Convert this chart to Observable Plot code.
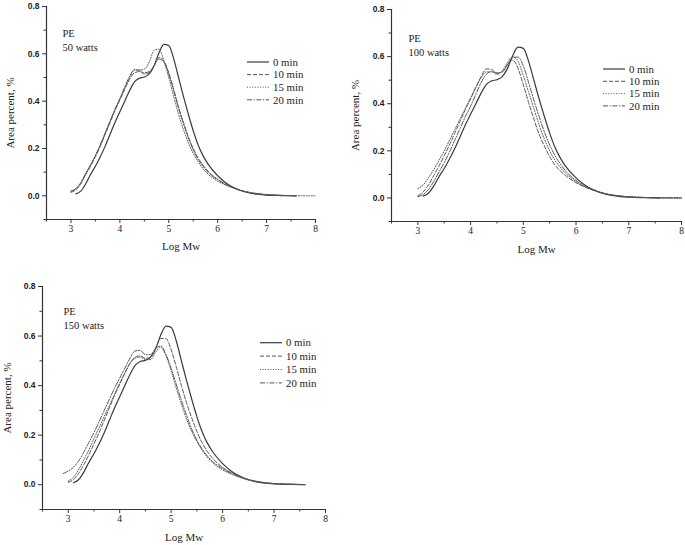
<!DOCTYPE html>
<html><head><meta charset="utf-8">
<script src="https://cdn.jsdelivr.net/npm/d3@7"></script>
<script src="https://cdn.jsdelivr.net/npm/@observablehq/plot@0.6"></script>
<style>
body{margin:0;background:#fff;}
#wrap{position:relative;width:685px;height:545px;overflow:hidden;background:#fff;}
#wrap svg{position:absolute;}
</style></head><body><div id="wrap"></div>
<script>
// Log Mw sample grid
const logMw = [2.9, 3.0, 3.1, 3.2, 3.3, 3.4, 3.5, 3.6, 3.7, 3.8, 3.9, 4.0, 4.1, 4.2, 4.3, 4.4, 4.5, 4.6, 4.7, 4.8, 4.9, 5.0, 5.1, 5.2, 5.3, 5.4, 5.5, 5.6, 5.7, 5.8, 6.0, 6.2, 6.4, 6.6, 6.8, 7.0, 7.3, 7.6, 8.0];
const seriesNames = ["0 min", "10 min", "15 min", "20 min"];
const panelTitles = ["50 watts", "100 watts", "150 watts"];
const xTicks = [3, 4, 5, 6, 7, 8];
const xMinor = [2.5, 3.5, 4.5, 5.5, 6.5, 7.5];
const yTicks = [0, 0.2, 0.4, 0.6, 0.8];
const yMinor = [-0.1, 0.1, 0.3, 0.5, 0.7];

// 0 min (untreated PE)
const min0 = [null, null, 0.008, 0.02, 0.05, 0.09, 0.125, 0.165, 0.21, 0.26, 0.31, 0.355, 0.40, 0.445, 0.482, 0.497, 0.502, 0.515, 0.55, 0.605, 0.64, 0.635, 0.58, 0.50, 0.42, 0.345, 0.275, 0.215, 0.17, 0.135, 0.085, 0.05, 0.028, 0.014, 0.007, 0.003, 0.001, 0, null];

// 50 watts
const w50_10 = [null, 0.015, 0.025, 0.05, 0.09, 0.125, 0.165, 0.21, 0.26, 0.31, 0.36, 0.405, 0.45, 0.492, 0.52, 0.525, 0.515, 0.52, 0.55, 0.585, 0.57, 0.52, 0.45, 0.375, 0.31, 0.25, 0.2, 0.16, 0.13, 0.105, 0.07, 0.045, 0.028, 0.016, 0.009, 0.005, 0.002, 0.0005, null];
const w50_15 = [null, 0.02, 0.03, 0.055, 0.09, 0.13, 0.17, 0.215, 0.265, 0.315, 0.365, 0.41, 0.455, 0.5, 0.532, 0.532, 0.535, 0.565, 0.615, 0.62, 0.57, 0.5, 0.42, 0.345, 0.28, 0.225, 0.18, 0.145, 0.115, 0.092, 0.062, 0.042, 0.027, 0.016, 0.009, 0.005, 0.002, 0.0005, 0];
const w50_20 = [null, 0.02, 0.03, 0.055, 0.095, 0.13, 0.17, 0.215, 0.265, 0.315, 0.365, 0.41, 0.46, 0.505, 0.533, 0.53, 0.52, 0.525, 0.55, 0.578, 0.565, 0.515, 0.445, 0.37, 0.305, 0.245, 0.195, 0.155, 0.125, 0.1, 0.068, 0.045, 0.028, 0.017, 0.01, 0.005, 0.002, 0, null];

// 100 watts
const w100_10 = [null, 0.01, 0.025, 0.055, 0.095, 0.135, 0.18, 0.225, 0.275, 0.325, 0.375, 0.42, 0.47, 0.515, 0.548, 0.545, 0.53, 0.535, 0.565, 0.585, 0.55, 0.48, 0.405, 0.335, 0.27, 0.22, 0.175, 0.14, 0.115, 0.095, 0.065, 0.043, 0.027, 0.016, 0.009, 0.005, 0.002, 0.0005, 0];
const w100_15 = [null, 0.04, 0.055, 0.085, 0.12, 0.16, 0.2, 0.245, 0.29, 0.335, 0.38, 0.425, 0.47, 0.51, 0.535, 0.535, 0.525, 0.54, 0.575, 0.6, 0.58, 0.52, 0.45, 0.38, 0.31, 0.25, 0.2, 0.16, 0.13, 0.105, 0.07, 0.045, 0.028, 0.016, 0.009, 0.005, 0.002, 0.0005, 0];
const w100_20 = [null, 0.005, 0.015, 0.035, 0.07, 0.11, 0.15, 0.195, 0.245, 0.295, 0.345, 0.39, 0.44, 0.49, 0.525, 0.537, 0.53, 0.535, 0.565, 0.595, 0.598, 0.56, 0.49, 0.415, 0.345, 0.28, 0.225, 0.18, 0.145, 0.115, 0.075, 0.047, 0.028, 0.016, 0.009, 0.005, 0.002, 0.0005, 0];

// 150 watts
const w150_10 = [null, 0.01, 0.02, 0.045, 0.08, 0.12, 0.165, 0.21, 0.26, 0.31, 0.36, 0.405, 0.45, 0.49, 0.515, 0.52, 0.51, 0.515, 0.55, 0.59, 0.59, 0.545, 0.475, 0.4, 0.33, 0.27, 0.215, 0.17, 0.135, 0.108, 0.07, 0.045, 0.028, 0.016, 0.009, 0.005, 0.002, 0.0005, null];
const w150_15 = [null, 0.015, 0.03, 0.06, 0.1, 0.14, 0.185, 0.23, 0.275, 0.32, 0.365, 0.41, 0.45, 0.49, 0.51, 0.515, 0.505, 0.505, 0.535, 0.555, 0.52, 0.46, 0.39, 0.325, 0.265, 0.215, 0.175, 0.14, 0.112, 0.09, 0.06, 0.04, 0.025, 0.015, 0.008, 0.004, 0.002, 0, null];
const w150_20 = [0.045, 0.055, 0.07, 0.095, 0.13, 0.17, 0.21, 0.255, 0.3, 0.345, 0.39, 0.43, 0.47, 0.51, 0.54, 0.542, 0.525, 0.525, 0.55, 0.56, 0.525, 0.47, 0.405, 0.34, 0.28, 0.225, 0.18, 0.145, 0.117, 0.095, 0.065, 0.043, 0.027, 0.016, 0.009, 0.005, 0.002, 0.0005, null];

const styles = [
  {dash: null, width: 1.2, color: "#3a3a3a"},
  {dash: "4,2", width: 1, color: "#555"},
  {dash: "1,1.6", width: 1, color: "#555"},
  {dash: "5,1.6,1.2,1.6", width: 1, color: "#555"}
];

const panels = [
  {title: panelTitles[0], series: [min0, w50_10, w50_15, w50_20], left: 0, top: 0, w: 330, h: 262,
   m: [6, 15, 43, 46], yl: 36, xl: 27, note: [16, 28], leg: [247, 62, 12.6]},
  {title: panelTitles[1], series: [min0, w100_10, w100_15, w100_20], left: 340, top: 0, w: 345, h: 262,
   m: [9, 4, 41, 51], yl: 36, xl: 27.5, note: [17, 30], leg: [263, 69, 12.3]},
  {title: panelTitles[2], series: [min0, w150_10, w150_15, w150_20], left: 0, top: 270, w: 340, h: 275,
   m: [16, 15, 36, 42], yl: 35, xl: 27.5, note: [21, 26], leg: [260, 72.7, 13.4]}
];

const wrap = document.getElementById("wrap");
const serif = "'Liberation Serif', 'Times New Roman', serif";

for (const p of panels) {
  const [mt, mr, mb, ml] = p.m;
  const lineMarks = p.series.map((arr, k) => {
    const rows = [];
    arr.forEach((v, i) => { if (v != null) rows.push({x: logMw[i], y: v}); });
    return Plot.line(rows, {x: "x", y: "y", stroke: styles[k].color, strokeWidth: styles[k].width,
      strokeDasharray: styles[k].dash || undefined, curve: "monotone-x"});
  });
  const svg = Plot.plot({
    width: p.w, height: p.h,
    marginTop: mt, marginRight: mr, marginBottom: mb, marginLeft: ml,
    style: {background: "transparent", fontFamily: serif, color: "#222", overflow: "visible"},
    x: {domain: [2.5, 8]},
    y: {domain: [-0.1, 0.8]},
    marks: [
      Plot.axisX(xTicks, {tickSize: 4, tickPadding: 2, fontSize: 9.5, fontFamily: serif, tickFormat: d => String(d), label: null, stroke: "#333"}),
      Plot.axisX(xMinor, {tickSize: 2.5, tickFormat: () => "", label: null, stroke: "#333"}),
      Plot.axisY(yTicks, {tickSize: 4, tickPadding: 3, fontSize: 8.5, fontWeight: "bold", fontFamily: "'Liberation Sans', Arial, sans-serif", tickFormat: d3.format(".1f"), label: null, stroke: "#333"}),
      Plot.axisY(yMinor, {tickSize: 2.5, tickFormat: () => "", label: null, stroke: "#333"}),
      Plot.ruleX([2.5], {stroke: "#333", strokeWidth: 1.2}),
      Plot.ruleY([-0.1], {stroke: "#333", strokeWidth: 1.2}),
      ...lineMarks,
      Plot.text(["Log Mw"], {text: d => d, frameAnchor: "bottom", dy: p.xl, textAnchor: "middle", lineAnchor: "middle", fontSize: 11, fill: "#222"}),
      Plot.text(["Area percent, %"], {text: d => d, frameAnchor: "left", dx: -p.yl, rotate: -90, textAnchor: "middle", lineAnchor: "middle", fontSize: 11, fill: "#222"}),
      Plot.text(["PE\n" + p.title], {text: d => d, frameAnchor: "top-left", dx: p.note[0], dy: p.note[1] - 7, textAnchor: "start", lineAnchor: "top", lineHeight: 1.33, fontSize: 10.5, fill: "#222"})
    ]
  });
  svg.style.left = p.left + "px";
  svg.style.top = p.top + "px";
  // legend (pixel layout inside the panel)
  const g = d3.select(svg).append("g").attr("font-family", serif).attr("font-size", 10.8)
    .attr("fill", "#222").attr("text-anchor", "start");
  const [lx, ly, dy] = p.leg;
  seriesNames.forEach((name, k) => {
    const y = ly + k * dy;
    g.append("line").attr("x1", lx).attr("x2", lx + 22).attr("y1", y).attr("y2", y)
      .attr("stroke", styles[k].color).attr("stroke-width", styles[k].width)
      .attr("stroke-dasharray", styles[k].dash);
    g.append("text").attr("x", lx + 26).attr("y", y).attr("dy", "0.35em")
      .attr("text-anchor", "start").text(name);
  });
  wrap.appendChild(svg);
}
</script>
</body></html>
